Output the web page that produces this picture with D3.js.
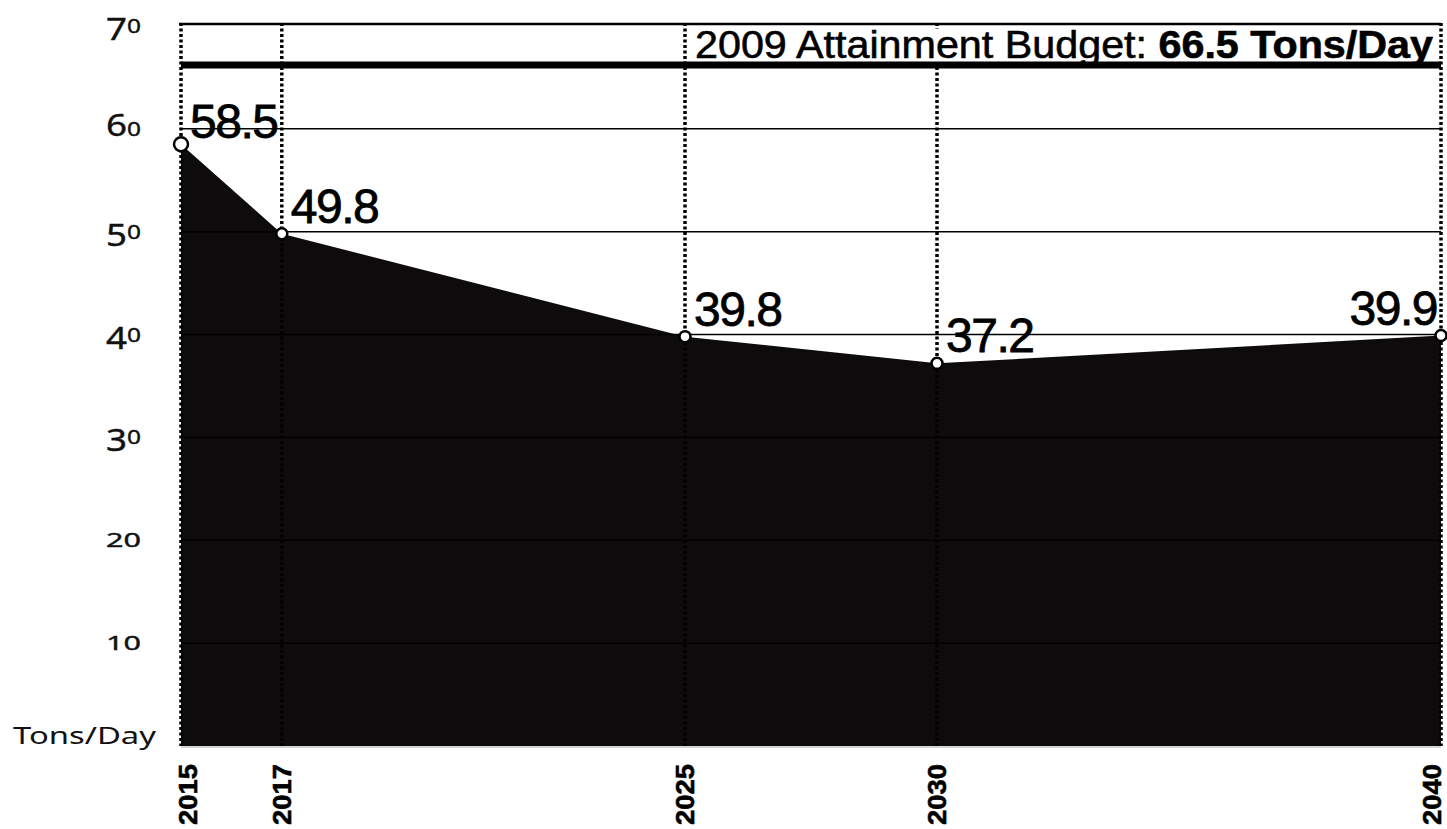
<!DOCTYPE html>
<html>
<head>
<meta charset="utf-8">
<script src="https://cdn.jsdelivr.net/npm/d3@7"></script>
<style>
  body { margin: 0; background: #fff; }
  svg { display: block; }
  .ylab { font-family: "Noto Sans", sans-serif; fill: #111; stroke: #111; stroke-width: 0.4px; }
  .xlab { font-family: "Liberation Sans", Arial, sans-serif; font-weight: bold; font-size: 26px; fill: #000; stroke: #000; stroke-width: 0.6px; }
  .val { font-family: "Liberation Sans", Arial, sans-serif; font-size: 48px; fill: #000; stroke: #000; stroke-width: 0.8px; letter-spacing: -1.5px; }
</style>
</head>
<body>
<svg width="1447" height="829"></svg>
<script>
var years = [2015, 2017, 2025, 2030, 2040];
var tons = [58.5, 49.8, 39.8, 37.2, 39.9];
var yTicks = [10, 20, 30, 40, 50, 60, 70];
var budgetYear = 2009;
var budgetValue = 66.5;

var svg = d3.select("svg");

var x = d3.scaleLinear().domain([2015, 2040]).range([181, 1441]);
var y = d3.scaleLinear().domain([0, 70]).range([746, 26]);

var data = years.map(function(d, i) { return { year: d, value: tons[i] }; });

// area
var area = d3.area()
  .x(function(d) { return x(d.year); })
  .y0(y(0))
  .y1(function(d) { return y(d.value); });

svg.append("path")
  .datum(data)
  .attr("d", area)
  .attr("fill", "#0e0b0d");

// grid lines
svg.selectAll(".grid")
  .data(yTicks.filter(function(d) { return d < 70; }))
  .enter().append("line")
  .attr("x1", x(2015)).attr("x2", x(2040))
  .attr("y1", function(d) { return y(d); })
  .attr("y2", function(d) { return y(d); })
  .attr("stroke", "#000")
  .attr("stroke-width", 1.5);

// top border
svg.append("line")
  .attr("x1", x(2015) - 2).attr("x2", x(2040))
  .attr("y1", y(70) - 2).attr("y2", y(70) - 2)
  .attr("stroke", "#000")
  .attr("stroke-width", 2.5);

// bottom axis
svg.append("line")
  .attr("x1", x(2015)).attr("x2", x(2040))
  .attr("y1", y(0) + 1).attr("y2", y(0) + 1)
  .attr("stroke", "#aaa")
  .attr("stroke-width", 1);

// dotted year lines
svg.selectAll(".vline")
  .data(years)
  .enter().append("line")
  .attr("x1", function(d) { return x(d); })
  .attr("x2", function(d) { return x(d); })
  .attr("y1", y(70) - 3)
  .attr("y2", y(0))
  .attr("stroke", "#000")
  .attr("stroke-width", 3.5)
  .attr("stroke-dasharray", "3,2.5");

// banner background (hides dotted lines behind the text)
var bannerBg = svg.append("rect").attr("fill", "#fff");

// budget line
svg.append("line")
  .attr("x1", x(2015)).attr("x2", x(2040))
  .attr("y1", y(budgetValue) + 3).attr("y2", y(budgetValue) + 3)
  .attr("stroke", "#000")
  .attr("stroke-width", 7);

var banner = svg.append("text")
  .attr("x", x(2040) - 8)
  .attr("y", y(budgetValue) - 4)
  .attr("text-anchor", "end")
  .attr("textLength", 738)
  .attr("lengthAdjust", "spacingAndGlyphs")
  .style("font-family", "'Liberation Sans', Arial, sans-serif")
  .style("font-size", "39px")
  .style("stroke", "#000")
  .style("stroke-width", "0.6px");
banner.append("tspan").text(budgetYear + " Attainment Budget: ");
banner.append("tspan").attr("font-weight", "bold").text(budgetValue + " Tons/Day");

var bb = banner.node().getBBox();
bannerBg
  .attr("x", bb.x)
  .attr("y", bb.y + 6)
  .attr("width", bb.width)
  .attr("height", bb.height - 8);

// y labels, drawn with old-style figures
var ylab = svg.selectAll(".ylab")
  .data(yTicks)
  .enter().append("text")
  .attr("class", "ylab")
  .attr("x", 141)
  .attr("y", function(d) { return y(d) + 7; })
  .attr("text-anchor", "end")
  .attr("textLength", 35)
  .attr("lengthAdjust", "spacingAndGlyphs");

ylab.each(function(d) {
  var t = d3.select(this);
  var shift = 0;
  String(d).split("").forEach(function(c) {
    var drop = "34579".indexOf(c) >= 0 ? 7 : 0;
    var small = "012".indexOf(c) >= 0;
    t.append("tspan")
      .attr("dy", drop - shift)
      .style("font-size", small ? "20px" : "30px")
      .text(c);
    shift = drop;
  });
});

svg.append("text")
  .attr("x", 13)
  .attr("y", 744)
  .attr("textLength", 143)
  .attr("lengthAdjust", "spacingAndGlyphs")
  .style("font-family", "'Noto Sans', sans-serif")
  .style("font-size", "24px")
  .style("fill", "#111")
  .text("Tons/Day");

// x labels
svg.selectAll(".xlab")
  .data(years)
  .enter().append("text")
  .attr("class", "xlab")
  .attr("transform", function(d) {
    var cx = Math.min(Math.max(x(d), x(2015) + 7), x(2040) - 9);
    return "translate(" + cx + ",764) rotate(-90)";
  })
  .attr("text-anchor", "end")
  .attr("dy", "0.36em")
  .attr("textLength", 61)
  .attr("lengthAdjust", "spacingAndGlyphs")
  .text(function(d) { return d; });

// points
svg.selectAll(".pt")
  .data(data)
  .enter().append("circle")
  .attr("cx", function(d) { return x(d.year); })
  .attr("cy", function(d) { return y(d.value); })
  .attr("r", function(d, i) { return i === 0 ? 7 : 5.5; })
  .attr("fill", "#fff")
  .attr("stroke", "#000")
  .attr("stroke-width", 2.5);

// value labels
svg.selectAll(".val")
  .data(data)
  .enter().append("text")
  .attr("class", "val")
  .attr("x", function(d, i) { return i === data.length - 1 ? x(d.year) - 4 : x(d.year) + 9; })
  .attr("y", function(d, i) { return y(d.value) - (i === 0 ? 6 : 11); })
  .attr("text-anchor", function(d, i) { return i === data.length - 1 ? "end" : "start"; })
  .text(function(d) { return d.value.toFixed(1); });
</script>
</body>
</html>
